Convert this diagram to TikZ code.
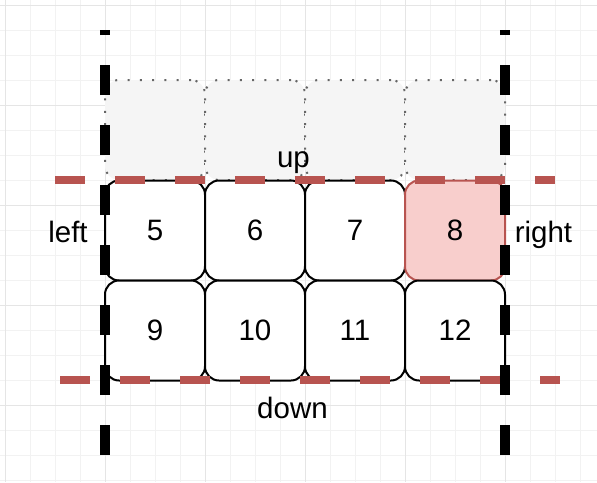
\documentclass[tikz,border=0pt]{standalone}
\usepackage{fontspec}
\setmainfont{Liberation Sans}
\usepackage{tikz}
\usetikzlibrary{positioning}
\definecolor{edgered}{HTML}{B85450}
\definecolor{hitpink}{HTML}{F8CECC}
\definecolor{ghostfill}{HTML}{F5F5F5}
\definecolor{ghostdraw}{HTML}{666666}

\begin{document}
\begin{tikzpicture}
  [
    x=1pt, y=-1pt,
    font=\fontsize{29.5}{35}\selectfont,
    Cell/.style={rectangle, rounded corners=14pt, draw=black, fill=white, line width=2pt, minimum size=100pt, inner sep=0pt},
    Hit/.style={Cell, draw=edgered, fill=hitpink},
    Ghost/.style={Cell, draw=ghostdraw, fill=ghostfill, line width=2pt, dash pattern=on 2pt off 10.3pt},
    Wall/.style={draw=black, line width=10pt, dash pattern=on 30pt off 30pt},
    Border/.style={draw=edgered, line width=8pt, dash pattern=on 30pt off 30pt},
    Minor/.style={draw=gray!10, line width=1pt},
    Major/.style={draw=gray!20, line width=1pt}
  ]
  \useasboundingbox (0,0) rectangle (597,482);
  % Grid
  \foreach \gx in {30,55,80,130,155,180,230,255,280,330,355,380,430,455,480,530,555,580}
    \path [Minor] (\gx,0) -- (\gx,482);
  \foreach \gy in {30,55,80,130,155,180,230,255,280,330,355,380,430,455,480}
    \path [Minor] (0,\gy) -- (597,\gy);
  \foreach \gx in {5,105,205,305,405,505}
    \path [Major] (\gx,0) -- (\gx,482);
  \foreach \gy in {5,105,205,305,405}
    \path [Major] (0,\gy) -- (597,\gy);
  % Nodes
  \node[Ghost] (g1) at (155,130) {};
  \node[Ghost] (g2) at (255,130) {};
  \node[Ghost] (g3) at (355,130) {};
  \node[Ghost] (g4) at (455,130) {};
  \node[Cell] (c5) at (155,230.5) {5};
  \node[Cell] (c6) at (255,230.5) {6};
  \node[Cell] (c7) at (355,230.5) {7};
  \node[Hit]  (c8) at (455,230.5) {8};
  \node[Cell] (c9) at (155,330.5) {9};
  \node[Cell] (c10) at (255,330.5) {10};
  \node[Cell] (c11) at (355,330.5) {11};
  \node[Cell] (c12) at (455,330.5) {12};
  \node[anchor=base] (up) at (293.5,167) {up};
  \node[anchor=base] (down) at (292.5,418) {down};
  \node[anchor=base] (left) at (68,242) {left};
  \node[anchor=base] (right) at (543.5,242) {right};
  \coordinate (upW) at (55,180);
  \coordinate (upE) at (555,180);
  \coordinate (downW) at (60,380);
  \coordinate (downE) at (560,380);
  \coordinate (leftS) at (105,455);
  \coordinate (leftN) at (105,30);
  \coordinate (rightS) at (505,455);
  \coordinate (rightN) at (505,30);
  % Lines
  \path [Border] (upW) -- (upE);
  \path [Border] (downW) -- (downE);
  \path [Wall] (leftS) -- (leftN);
  \path [Wall] (rightS) -- (rightN);
\end{tikzpicture}
\end{document}
